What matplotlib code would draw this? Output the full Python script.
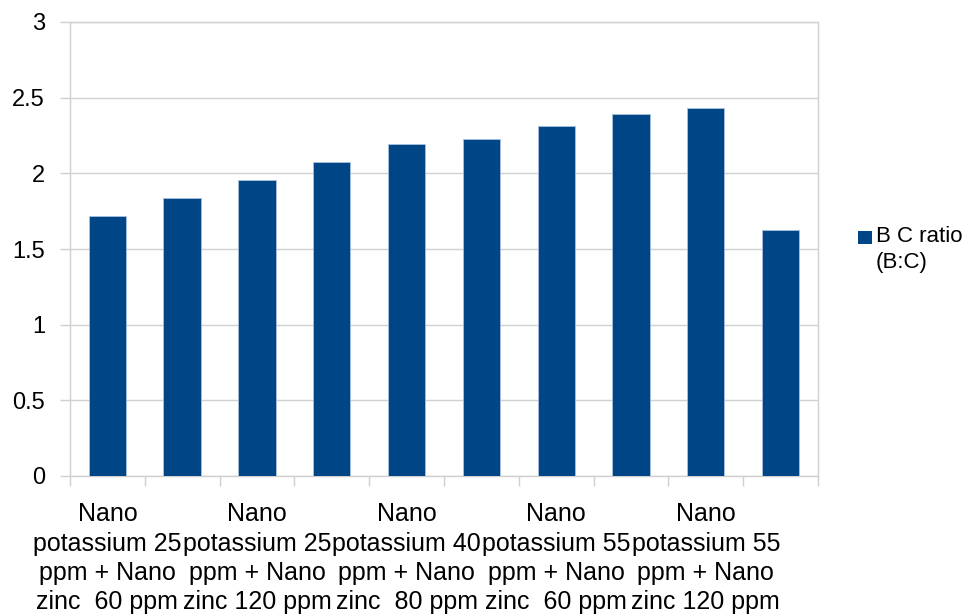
import matplotlib
matplotlib.use("Agg")
import matplotlib.pyplot as plt
from matplotlib.patches import Rectangle
import numpy as np

plt.rcParams['font.family'] = ['Liberation Sans', 'DejaVu Sans']

categories = [
    "Nano\npotassium 25\nppm + Nano\nzinc  60 ppm",
    "Nano\npotassium 25\nppm + Nano\nzinc  80 ppm",
    "Nano\npotassium 25\nppm + Nano\nzinc 120 ppm",
    "Nano\npotassium 40\nppm + Nano\nzinc  60 ppm",
    "Nano\npotassium 40\nppm + Nano\nzinc  80 ppm",
    "Nano\npotassium 40\nppm + Nano\nzinc 120 ppm",
    "Nano\npotassium 55\nppm + Nano\nzinc  60 ppm",
    "Nano\npotassium 55\nppm + Nano\nzinc  80 ppm",
    "Nano\npotassium 55\nppm + Nano\nzinc 120 ppm",
    "Control",
]
bc_ratio = [1.72, 1.84, 1.955, 2.075, 2.195, 2.225, 2.31, 2.39, 2.435, 1.625]
series_name = "B C ratio\n(B:C)"
y_ticks = [0, 0.5, 1, 1.5, 2, 2.5, 3]
y_tick_labels = ["0", "0.5", "1", "1.5", "2", "2.5", "3"]

bar_color = "#004586"
grid_color = "#d0d0d0"

fig = plt.figure(figsize=(9.7, 6.14), dpi=100)
ax = fig.add_axes([70/970, 1 - 476/614, (818-70)/970, (476-22)/614])

x = np.arange(len(categories))
ax.bar(x, bc_ratio, width=0.5, color=bar_color, edgecolor="#a9c1dd", linewidth=0.6, zorder=3)

ax.set_xlim(-0.5, len(categories) - 0.5)
ax.set_ylim(0, 3)
ax.set_yticks(y_ticks)
ax.set_yticklabels(y_tick_labels, fontsize=17)
ax.yaxis.grid(True, color=grid_color, linewidth=1, zorder=0)
ax.set_axisbelow(True)

# labels only on every other category (as in reference)
ax.set_xticks(x)
ax.set_xticklabels([c if i % 2 == 0 else "" for i, c in enumerate(categories)],
                   fontsize=18, linespacing=1.27)
ax.tick_params(axis='x', which='major', length=0, pad=19)
ax.set_xticks(np.arange(-0.5, len(categories) + 0.5, 1), minor=True)
ax.tick_params(axis='x', which='minor', length=7, color=grid_color, width=1)
ax.tick_params(axis='y', length=7, color=grid_color, width=1, pad=11)

for s in ['left', 'right', 'bottom', 'top']:
    ax.spines[s].set_color(grid_color)
    ax.spines[s].set_linewidth(1)

# legend: square aligned with first line of the series name
W, H = 970, 614
fig.patches.append(Rectangle((858/W, 1 - 244/H), 14/W, 13/H,
                             transform=fig.transFigure, facecolor=bar_color,
                             edgecolor='none'))
fig.text(876/W, 1 - 226/H, series_name, fontsize=16, va='top', ha='left',
         linespacing=1.3)

fig.savefig("out.png", dpi=100)
